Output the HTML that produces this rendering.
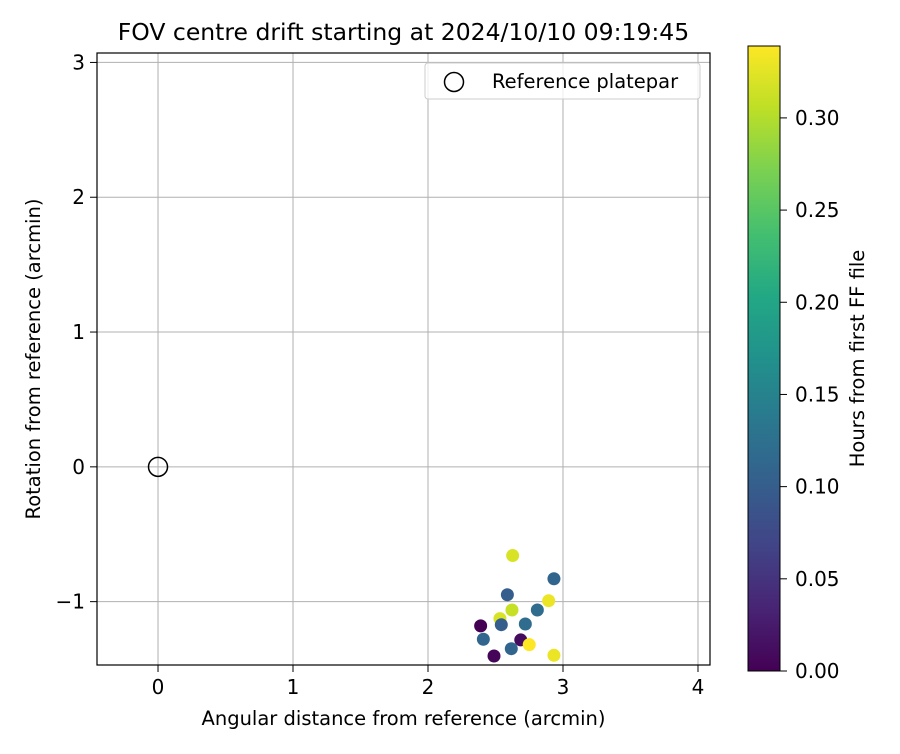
<!DOCTYPE html>
<html><head><meta charset="utf-8"><style>
body{margin:0;background:#fff;font-family:"DejaVu Sans",sans-serif}
</style></head><body>
<svg id="chart" width="900" height="750" xmlns="http://www.w3.org/2000/svg" font-family="DejaVu Sans, sans-serif">
<defs><linearGradient id="vir" x1="0" y1="1" x2="0" y2="0">
<stop offset="0" stop-color="#440154"/><stop offset="0.1" stop-color="#482475"/><stop offset="0.2" stop-color="#414487"/><stop offset="0.3" stop-color="#355f8d"/><stop offset="0.4" stop-color="#2a788e"/><stop offset="0.5" stop-color="#21918c"/><stop offset="0.6" stop-color="#22a884"/><stop offset="0.7" stop-color="#44bf70"/><stop offset="0.8" stop-color="#7ad151"/><stop offset="0.9" stop-color="#bddf26"/><stop offset="1" stop-color="#fde725"/>
</linearGradient></defs>
<g id="grid"></g><g id="marks"></g><g id="axes"></g>
</svg>
<script>
const xs=[2.627,2.933,2.588,2.894,2.622,2.810,2.533,2.543,2.721,2.390,2.410,2.687,2.750,2.617,2.489,2.933];
const ys=[-0.658,-0.830,-0.949,-0.993,-1.062,-1.062,-1.126,-1.171,-1.166,-1.180,-1.279,-1.284,-1.319,-1.349,-1.403,-1.398];
const hours=[0.32,0.11,0.10,0.33,0.31,0.12,0.32,0.10,0.12,0.0,0.11,0.01,0.34,0.11,0.005,0.33];
const xTicks=[0,1,2,3,4];
const yTicks=[-1,0,1,2,3];
const cTicks=[0.00,0.05,0.10,0.15,0.20,0.25,0.30];
const NS="http://www.w3.org/2000/svg";
const L=97,R=710,T=53,B=665,xmin=-0.452,xmax=4.089,ymin=-1.47,ymax=3.07;
const sx=v=>L+(v-xmin)/(xmax-xmin)*(R-L);
const sy=v=>B-(v-ymin)/(ymax-ymin)*(B-T);
const cT=46,cB=671,cmax=0.339;
const sc=v=>cB-v/cmax*(cB-cT);
const vir=[[68,1,84],[72,36,117],[65,68,135],[53,95,141],[42,120,142],[33,145,140],[34,168,132],[68,191,112],[122,209,81],[189,223,38],[253,231,37]];
function cmap(v){let t=Math.max(0,Math.min(1,v/cmax))*10;let i=Math.min(9,Math.floor(t)),f=t-i;const a=vir[i],b=vir[i+1];return `rgb(${a.map((c,k)=>Math.round(c+(b[k]-c)*f)).join(',')})`;}
function el(p,tag,at,txt){const e=document.createElementNS(NS,tag);for(const k in at)e.setAttribute(k,at[k]);if(txt!==undefined)e.textContent=txt;p.appendChild(e);return e;}
const g=document.getElementById('grid'),m=document.getElementById('marks'),a=document.getElementById('axes');
xTicks.forEach(v=>{const x=sx(v);
const l=el(g,'line',{x1:x,x2:x,y1:T,y2:B,stroke:'#b0b0b0','stroke-width':1});


el(a,'line',{x1:x,x2:x,y1:B,y2:B+7,stroke:'#000'});
const t=el(a,'text',{x:x,y:B+29,'text-anchor':'middle','font-size':20},String(v));

});
yTicks.forEach(v=>{const y=sy(v);
const l=el(g,'line',{x1:L,x2:R,y1:y,y2:y,stroke:'#b0b0b0','stroke-width':1});


el(a,'line',{x1:L-7,x2:L,y1:y,y2:y,stroke:'#000'});
const t=el(a,'text',{x:L-12,y:y+7,'text-anchor':'end','font-size':20},v<0?'\u2212'+(-v):String(v));

});
const ref=el(m,'circle',{cx:sx(0),cy:sy(0),r:9.5,fill:'none',stroke:'#000','stroke-width':1.5});


xs.forEach((v,i)=>{const c=el(m,'circle',{cx:sx(v),cy:sy(ys[i]),r:6.5,fill:cmap(hours[i])});

});
el(a,'rect',{x:L,y:T,width:R-L,height:B-T,fill:'none',stroke:'#000','stroke-width':1.2});
const ttl=el(a,'text',{x:(L+R)/2,y:40,'text-anchor':'middle','font-size':23.5},'FOV centre drift starting at 2024/10/10 09:19:45');


const xl=el(a,'text',{x:(L+R)/2,y:725,'text-anchor':'middle','font-size':19.5},'Angular distance from reference (arcmin)');


const yl=el(a,'text',{x:0,y:0,'text-anchor':'middle','font-size':19.5,transform:`translate(40,${(T+B)/2}) rotate(-90)`},'Rotation from reference (arcmin)');


const lg=el(a,'g',{});


el(lg,'rect',{x:425,y:63,width:275,height:36,rx:3,fill:'#fff',stroke:'#ccc','fill-opacity':0.8});
el(lg,'circle',{cx:454,cy:82,r:9.5,fill:'none',stroke:'#000','stroke-width':1.5});
el(lg,'text',{x:492,y:88,'font-size':19.5},'Reference platepar');
const cb=el(a,'rect',{x:748,y:cT,width:32,height:cB-cT,fill:'url(#vir)',stroke:'#000'});


cTicks.forEach(v=>{const y=sc(v);el(a,'line',{x1:780,x2:787,y1:y,y2:y,stroke:'#000'});
const t=el(a,'text',{x:795,y:y+7,'font-size':20},v.toFixed(2));

});
const cl=el(a,'text',{x:0,y:0,'text-anchor':'middle','font-size':19.5,transform:`translate(864,${(cT+cB)/2}) rotate(-90)`},'Hours from first FF file');


</script>
</body></html>
